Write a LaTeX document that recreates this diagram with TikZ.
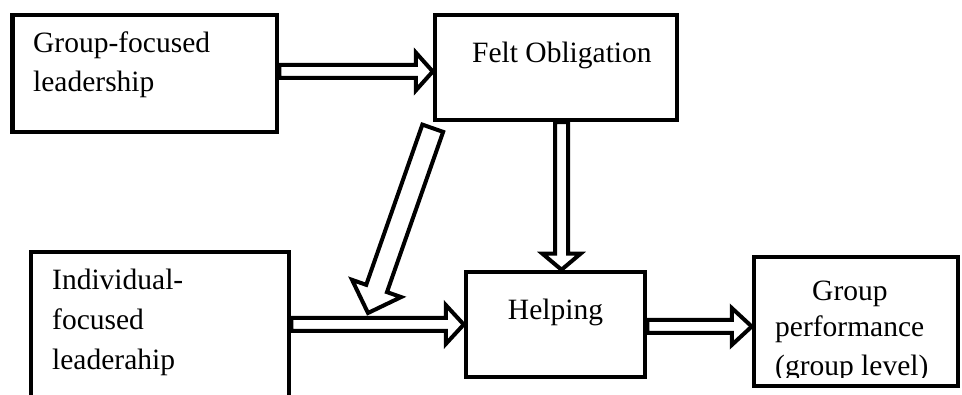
\documentclass[tikz,border=0pt]{standalone}
\usepackage{fontspec}
\setmainfont{Liberation Serif}
\usetikzlibrary{calc}
\tikzset{
  box/.style={draw, line width=4.5pt, inner sep=0pt},
  txt/.style={inner sep=0pt, anchor=base west, font=\fontsize{29.5}{36}\selectfont},
  fatarrow/.style={draw, line width=4pt, fill=white, line join=miter, miter limit=10},
}
% #2 start, #3 end, #4 half shaft width, #5 half head width, #6 head length
\newcommand\blockarrow[6][]{%
  \coordinate (ba-s) at (#2);
  \coordinate (ba-e) at (#3);
  \coordinate (ba-c) at ($(ba-e)!#6!(ba-s)$);
  \draw[fatarrow,#1] ($(ba-s)!#4!90:(ba-e)$) -- ($(ba-c)!#4!90:(ba-e)$)
    -- ($(ba-c)!#5!90:(ba-e)$) -- (ba-e) -- ($(ba-c)!#5!-90:(ba-e)$)
    -- ($(ba-c)!#4!-90:(ba-e)$) -- ($(ba-s)!#4!-90:(ba-e)$) -- cycle;
}
\begin{document}
\begin{tikzpicture}[x=1pt,y=-1pt]
\useasboundingbox (0,0) rectangle (962,395);
% boxes
\node[box, minimum width=264.5pt, minimum height=117pt] (g) at (144.75,73.5) {};
\node[box, minimum width=242pt, minimum height=105pt] (felt) at (556,67.5) {};
\node[box, minimum width=179pt, minimum height=105pt] (help) at (555.5,324.5) {};
\node[box, minimum width=204pt, minimum height=129pt] (gp) at (856,321.5) {};
\node[box, minimum width=258pt, minimum height=178pt] (ind) at (160,341) {};
% texts
\node[txt] (t1a) at (33,53) {Group-focused};
\node[txt] (t1b) at (33,92) {leadership};
\node[txt] (t2) at (472,63) {Felt Obligation};
\node[txt] (t3a) at (52,290) {Individual-};
\node[txt] (t3b) at (52,330) {focused};
\node[txt] (t3c) at (52,370) {leaderahip};
\node[txt, anchor=base] (t4) at (555.5,320) {Helping};
\node[txt] (t5a) at (812,301) {Group};
\node[txt] (t5b) at (775,337) {performance};
\begin{scope}
  \clip (740,340) rectangle (962,377.5);
  \node[txt] (t5c) at (775,376) {(group level)};
\end{scope}
% arrows
\blockarrow{[yshift=2pt]g.east}{[yshift=2pt]g.east -| felt.west}{6.5pt}{19pt}{17pt}
\blockarrow{[xshift=5.5pt]felt.south}{[xshift=5.5pt]felt.south |- help.north}{6.5pt}{19pt}{16pt}
\blockarrow{ind.east |- help.west}{help.west}{6.5pt}{19.5pt}{18pt}
\blockarrow{[yshift=-2pt]help.east}{[yshift=-2pt]help.east -| gp.west}{6.5pt}{18.5pt}{20pt}
\coordinate (dtip) at (368,313);
\blockarrow{[yshift=-6pt]felt.south west}{dtip}{11pt}{26pt}{26pt}
\end{tikzpicture}
\end{document}
